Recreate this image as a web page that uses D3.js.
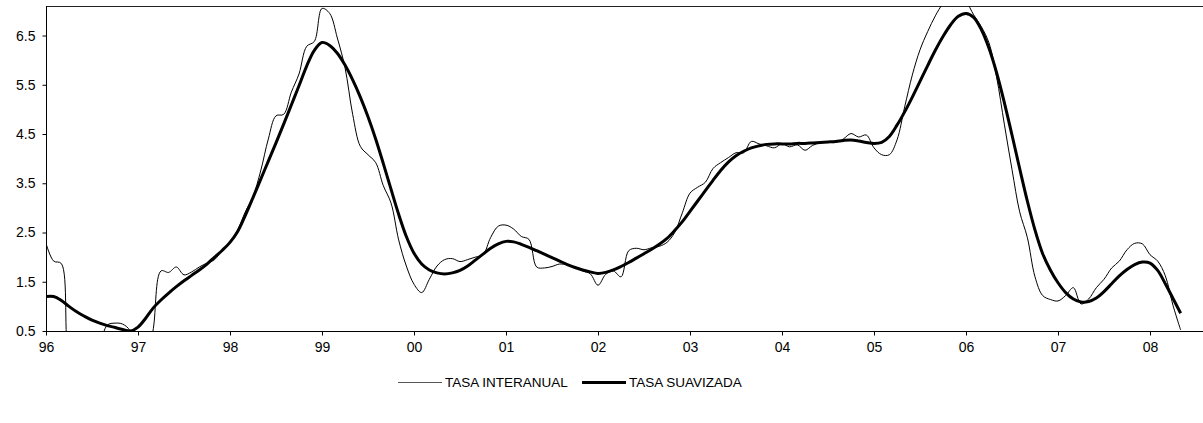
<!DOCTYPE html>
<html>
<head>
<meta charset="utf-8">
<script src="https://cdn.jsdelivr.net/npm/d3@7"></script>
<style>
  html, body { margin: 0; padding: 0; background: #fff; }
  svg { display: block; font-family: "Liberation Sans", Arial, sans-serif; }
</style>
</head>
<body>
<svg id="chart" width="1203" height="423"></svg>
<script>
// Year labels on the horizontal axis (one per January)
const yearLabels = ["96","97","98","99","00","01","02","03","04","05","06","07","08"];
// Value ticks on the vertical axis
const yTicks = [0.5, 1.5, 2.5, 3.5, 4.5, 5.5, 6.5];
const yDomain = [0.5, 7.1];

// Monthly series, January 1996 to May 2008
const tasaInteranual = [
  2.28, 1.92, 1.87, 0.00, -0.20, -0.30, -0.20, 0.20, 0.62, 0.66, 0.64, 0.50,
  0.00, -0.30, 0.55, 1.72, 1.69, 1.80, 1.64, 1.70, 1.80, 1.88, 1.95, 2.15,
  2.30, 2.55, 2.92, 3.23, 3.75, 4.40, 4.87, 4.90, 5.35, 5.72, 6.28, 6.38,
  7.05, 6.95, 6.45, 5.85, 4.90, 4.25, 4.08, 3.92, 3.45, 3.10, 2.35, 1.82,
  1.45, 1.28, 1.55, 1.82, 1.95, 1.97, 1.91, 1.95, 2.00, 2.05, 2.40, 2.63,
  2.65, 2.57, 2.42, 2.36, 1.80, 1.78, 1.81, 1.86, 1.84, 1.80, 1.72, 1.66,
  1.43, 1.65, 1.72, 1.60, 2.13, 2.18, 2.15, 2.19, 2.22, 2.30, 2.50, 2.90,
  3.30, 3.42, 3.52, 3.80, 3.92, 4.02, 4.12, 4.12, 4.35, 4.30, 4.26, 4.22,
  4.30, 4.24, 4.28, 4.17, 4.27, 4.32, 4.33, 4.33, 4.40, 4.51, 4.44, 4.48,
  4.22, 4.08, 4.08, 4.38, 5.05, 5.70, 6.21, 6.58, 6.90, 7.15, 7.30, 7.35,
  7.20, 6.92, 6.68, 6.35, 5.65, 4.70, 3.78, 2.92, 2.40, 1.60, 1.22, 1.14,
  1.11, 1.22, 1.38, 1.05, 1.15, 1.38, 1.55, 1.78, 1.92, 2.15, 2.28, 2.27,
  2.05, 1.92, 1.62, 1.02, 0.52
];

const tasaSuavizada = [
  1.20, 1.20, 1.12, 1.00, 0.89, 0.80, 0.72, 0.66, 0.61, 0.57, 0.53, 0.50,
  0.58, 0.76, 0.97, 1.13, 1.27, 1.40, 1.52, 1.63, 1.74, 1.86, 2.00, 2.14,
  2.30, 2.52, 2.85, 3.21, 3.58, 3.95, 4.32, 4.70, 5.09, 5.48, 5.88, 6.20,
  6.36, 6.30, 6.14, 5.90, 5.60, 5.25, 4.85, 4.40, 3.90, 3.38, 2.87, 2.42,
  2.08, 1.86, 1.74, 1.68, 1.66, 1.68, 1.73, 1.82, 1.94, 2.06, 2.18, 2.27,
  2.32, 2.31, 2.26, 2.20, 2.13, 2.06, 1.99, 1.92, 1.85, 1.79, 1.74, 1.70,
  1.67, 1.69, 1.74, 1.81, 1.89, 1.98, 2.07, 2.16, 2.26, 2.38, 2.54, 2.72,
  2.93, 3.14, 3.35, 3.56, 3.76, 3.93, 4.06, 4.15, 4.22, 4.26, 4.29, 4.30,
  4.30, 4.30, 4.31, 4.31, 4.32, 4.33, 4.34, 4.35, 4.37, 4.38, 4.36, 4.33,
  4.31, 4.33, 4.45, 4.68, 4.95, 5.25, 5.57, 5.89, 6.20, 6.48, 6.72, 6.89,
  6.95, 6.87, 6.62, 6.24, 5.74, 5.14, 4.48, 3.80, 3.14, 2.55, 2.07, 1.74,
  1.48, 1.28, 1.15, 1.09, 1.10, 1.17, 1.30, 1.46, 1.62, 1.75, 1.85, 1.90,
  1.88, 1.73, 1.46, 1.16, 0.86
];

const svg = d3.select("#chart");
const plot = { left: 46, top: 6, bottom: 331, right: 1203 };
const fontFamily = "'Liberation Sans', Arial, sans-serif";

// One month per unit; each year spans 12 units
const x = d3.scaleLinear().domain([0, 144]).range([plot.left, 1150]);
const y = d3.scaleLinear().domain(yDomain).range([plot.bottom, plot.top]);

svg.append("defs").append("clipPath").attr("id", "plotClip")
  .append("rect")
  .attr("x", plot.left).attr("y", plot.top)
  .attr("width", plot.right - plot.left).attr("height", plot.bottom - plot.top);

// Plot frame: top border line
svg.append("line")
  .attr("x1", plot.left).attr("x2", plot.right)
  .attr("y1", plot.top + 0.5).attr("y2", plot.top + 0.5)
  .attr("stroke", "#222").attr("stroke-width", 1);

// Vertical axis
const yAxis = d3.axisLeft(y)
  .tickValues(yTicks)
  .tickFormat(d3.format(".1f"))
  .tickSizeInner(4).tickSizeOuter(0).tickPadding(7);
const gy = svg.append("g")
  .attr("transform", `translate(${plot.left + 0.5},0)`)
  .call(yAxis);
gy.select(".domain").attr("d", `M0,${plot.top}V${plot.bottom}`).attr("stroke", "#000");
gy.selectAll("text").attr("font-size", 14).attr("fill", "#000")
  .attr("font-family", fontFamily);

// Horizontal axis
const xAxis = d3.axisBottom(x)
  .tickValues(yearLabels.map((_, i) => i * 12))
  .tickFormat((d, i) => yearLabels[i])
  .tickSizeInner(4).tickSizeOuter(0).tickPadding(7);
const gx = svg.append("g")
  .attr("transform", `translate(0,${plot.bottom + 0.5})`)
  .call(xAxis);
gx.select(".domain").attr("d", `M${plot.left},0H${plot.right}`).attr("stroke", "#000");
gx.selectAll("text").attr("font-size", 14).attr("fill", "#000")
  .attr("font-family", fontFamily);

// Series lines
const lineGen = d3.line()
  .x((d, i) => x(i))
  .y(d => y(d))
  .curve(d3.curveCatmullRom.alpha(0.5));

const lines = svg.append("g").attr("clip-path", "url(#plotClip)");
lines.append("path")
  .datum(tasaInteranual)
  .attr("d", lineGen)
  .attr("fill", "none").attr("stroke", "#000").attr("stroke-width", 1);
lines.append("path")
  .datum(tasaSuavizada)
  .attr("d", lineGen)
  .attr("fill", "none").attr("stroke", "#000").attr("stroke-width", 3)
  .attr("stroke-linejoin", "round");

// Legend
const legendY = 382.5;
const legendItems = [
  { label: "TASA INTERANUAL", x0: 398, width: 1, color: "#555" },
  { label: "TASA SUAVIZADA", x0: 582, width: 3, color: "#000" }
];
const lg = svg.append("g");
legendItems.forEach(it => {
  lg.append("line")
    .attr("x1", it.x0).attr("x2", it.x0 + 44)
    .attr("y1", legendY).attr("y2", legendY)
    .attr("stroke", it.color).attr("stroke-width", it.width);
  lg.append("text")
    .attr("x", it.x0 + 47).attr("y", legendY)
    .attr("dy", "0.35em")
    .attr("font-size", 13.5)
    .attr("font-family", fontFamily)
    .attr("fill", "#000")
    .text(it.label);
});
</script>
</body>
</html>
